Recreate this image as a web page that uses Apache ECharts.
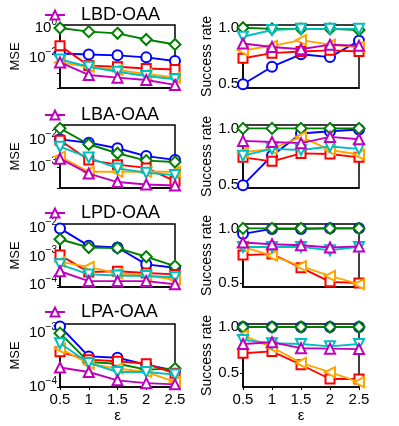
<!DOCTYPE html>
<html>
<head>
<meta charset="utf-8">
<script src="https://cdn.jsdelivr.net/npm/echarts@6/dist/echarts.min.js"></script>
<style>
  html, body { margin: 0; padding: 0; background: #fff; }
  #chart { width: 399px; height: 426px; }
</style>
</head>
<body>
<div id="chart"></div>
<script>
// eps values on the shared x axis
const eps = [0.5, 1, 1.5, 2, 2.5];
const methods = ['LBD-OAA', 'LBA-OAA', 'LPD-OAA', 'LPA-OAA'];

// series order in every panel: blue, green, red, orange, cyan, magenta
const lbdMse = [
  [0.02, 0.017, 0.015, 0.011, 0.0063],
  [1.0, 0.57, 0.44, 0.17, 0.08],
  [0.066, 0.0031, 0.0026, 0.002, 0.0017],
  [0.005, 0.0026, 0.0016, 0.00085, 0.0005],
  [0.008, 0.0026, 0.0012, 0.00063, 0.00038],
  [0.0051, 0.00074, 0.00049, 0.00034, 0.00016]
];
const lbdRate = [
  [0.5, 0.655, 0.765, 0.74, 0.885],
  [1.0, 0.99, 0.99, 0.99, 0.98],
  [0.73, 0.775, 0.79, 0.8, 0.79],
  [0.8, 0.84, 0.89, 0.85, 0.83],
  [0.92, 0.98, 0.99, 0.99, 0.99],
  [0.86, 0.83, 0.81, 0.85, 0.84]
];
const lbaMse = [
  [0.0105, 0.0079, 0.0049, 0.0025, 0.0018],
  [0.027, 0.0069, 0.0032, 0.0017, 0.0015],
  [0.0098, 0.0018, 0.0012, 0.00091, 0.00029],
  [0.0024, 0.00065, 0.00065, 0.00065, 0.00065],
  [0.0056, 0.0022, 0.00087, 0.0006, 0.00049],
  [0.002, 0.00056, 0.00027, 0.00022, 0.0002]
];
const lbaRate = [
  [0.5, 0.76, 0.955, 0.975, 0.99],
  [1, 1, 1, 1, 1],
  [0.745, 0.71, 0.78, 0.775, 0.745],
  [0.79, 0.82, 0.925, 0.81, 0.77],
  [0.76, 0.82, 0.81, 0.84, 0.82],
  [0.89, 0.88, 0.87, 0.925, 0.905]
];
const lpdMse = [
  [0.0098, 0.0024, 0.0021, 0.00054, 0.00041],
  [0.0041, 0.0021, 0.002, 0.001, 0.00047],
  [0.00114, 0.00029, 0.00031, 0.00027, 0.00024],
  [0.00066, 0.00044, 0.00026, 0.00022, 0.00016],
  [0.00054, 0.00024, 0.00022, 0.00021, 0.00019],
  [0.00031, 0.00014, 0.00014, 0.00014, 0.000108]
];
const lpdRate = [
  [0.95, 0.995, 0.995, 1.0, 1.0],
  [1, 1, 1, 1, 1],
  [0.755, 0.765, 0.64, 0.51, 0.5],
  [0.83, 0.75, 0.655, 0.565, 0.49],
  [0.83, 0.83, 0.83, 0.8, 0.83],
  [0.87, 0.855, 0.845, 0.825, 0.835]
];
const lpaMse = [
  [0.00133, 0.00037, 0.00035, 0.00026, 0.0002],
  [0.001, 0.00029, 0.00027, 0.00021, 0.00022],
  [0.00045, 0.00032, 0.0003, 0.00027, 0.00018],
  [0.00052, 0.00027, 0.00022, 0.00019, 0.000124],
  [0.00065, 0.00028, 0.00019, 0.00019, 0.00017],
  [0.00023, 0.00019, 0.000133, 0.000118, 0.000112]
];
const lpaRate = [
  [1, 1, 1, 1, 1],
  [1, 1, 1, 1, 1],
  [0.715, 0.735, 0.59, 0.435, 0.435],
  [0.91, 0.78, 0.61, 0.51, 0.4],
  [0.86, 0.825, 0.815, 0.79, 0.815],
  [0.815, 0.835, 0.77, 0.765, 0.76]
];

// axis ranges and shown tick labels
const mseMin = [1e-4, 1.62e-4, 8.7e-5, 1e-4];
const mseMax = [1.58, 0.036, 0.014, 1.48e-3];
const mseExp = [[0, -2], [-2, -3], [-2, -3, -4], [-3, -4]];
const rateMin = [0.467, 0.475, 0.463, 0.348];
const rateMax = [1.024, 1.03, 1.04, 1.033];
const rateTicks = [0.5, 1.0];

const mseRows = [lbdMse, lbaMse, lpdMse, lpaMse];
const rateRows = [lbdRate, lbaRate, lpdRate, lpaRate];

const FONT = 'Liberation Sans, Arial, sans-serif';
const colors = ['#0000ff', '#008000', '#ff0000', '#ffa500', '#00bfbf', '#bf00bf'];
const symbols = ['emptyCircle', 'emptyDiamond', 'emptyRect', 'emptyTriangle', 'emptyTriangle', 'emptyTriangle'];
const rotates = [0, 0, 0, 90, 180, 0];
const sizes = [10, 11, 9, 10, 10, 10];
const rowTops = [25, 125, 224, 324];
const legendTops = [1, 101, 199, 298];

const chart = echarts.init(document.getElementById('chart'));

const grids = [];
const xAxes = [];
const yAxes = [];
const series = [];

const blackLine = { show: true, lineStyle: { color: '#000', width: 1.5 } };

rowTops.forEach((top, r) => {
  const last = r === rowTops.length - 1;
  [0, 1].forEach(c => {
    const idx = r * 2 + c;
    grids.push({
      left: c === 0 ? 60 : 243,
      width: c === 0 ? 115 : 116,
      top: top,
      height: 63,
      show: true,
      borderColor: '#000',
      borderWidth: 1.5
    });
    xAxes.push({
      type: 'value',
      gridIndex: idx,
      min: 0.5,
      max: 2.5,
      interval: 0.5,
      splitLine: { show: false },
      axisLine: blackLine,
      axisTick: { show: last, length: 3, lineStyle: { color: '#000' } },
      axisLabel: {
        show: last,
        margin: 5,
        fontSize: 15,
        fontFamily: FONT,
        color: '#000',
        formatter: v => String(v)
      },
      name: last ? 'ε' : '',
      nameLocation: 'middle',
      nameGap: 20,
      nameTextStyle: { fontSize: 15, fontFamily: FONT, color: '#000' }
    });
    if (c === 0) {
      yAxes.push({
        type: 'log',
        logBase: 10,
        gridIndex: idx,
        min: mseMin[r],
        max: mseMax[r],
        splitLine: { show: false },
        axisLine: blackLine,
        axisTick: { length: 3, lineStyle: { color: '#000' } },
        axisLabel: {
          margin: 3,
          fontFamily: FONT,
          color: '#000',
          formatter: v => {
            const e = Math.log10(v);
            const k = Math.round(e);
            if (Math.abs(e - k) > 1e-6 || mseExp[r].indexOf(k) < 0) return '';
            return '{b|10}{s|' + (k < 0 ? '\u2212' + (-k) : k) + '}';
          },
          rich: {
            b: { fontSize: 15, lineHeight: 22, fontFamily: FONT, color: '#000' },
            s: { fontSize: 10, lineHeight: 10, verticalAlign: 'top', fontFamily: FONT, color: '#000' }
          }
        },
        name: 'MSE',
        nameLocation: 'middle',
        nameRotate: 90,
        nameGap: 38,
        nameTextStyle: { fontSize: 13, fontFamily: FONT, color: '#000' }
      });
    } else {
      yAxes.push({
        type: 'value',
        gridIndex: idx,
        min: rateMin[r],
        max: rateMax[r],
        splitLine: { show: false },
        axisLine: blackLine,
        axisTick: { length: 3, customValues: rateTicks, lineStyle: { color: '#000' } },
        axisLabel: {
          customValues: rateTicks,
          margin: 4,
          fontSize: 15,
          fontFamily: FONT,
          color: '#000',
          formatter: v => v.toFixed(1)
        },
        name: 'Success rate',
        nameLocation: 'middle',
        nameRotate: 90,
        nameGap: 28,
        nameTextStyle: { fontSize: 14, fontFamily: FONT, color: '#000' }
      });
    }
    const rows = c === 0 ? mseRows[r] : rateRows[r];
    rows.forEach((vals, k) => {
      series.push({
        type: 'line',
        name: k === 5 ? methods[r] : 's' + r + k,
        xAxisIndex: idx,
        yAxisIndex: idx,
        data: eps.map((x, i) => [x, vals[i]]),
        symbol: symbols[k],
        symbolSize: sizes[k],
        symbolRotate: rotates[k],
        showAllSymbol: true,
        color: colors[k],
        lineStyle: { width: 1.9, color: colors[k] },
        itemStyle: { color: colors[k], borderWidth: 1.6 },
        z: 2 + k
      });
    });
  });
});

const legends = methods.map((m, r) => ({
  data: [m],
  left: 39,
  top: legendTops[r],
  itemWidth: 20,
  itemHeight: 11,
  selectedMode: false,
  textStyle: { fontSize: 18, fontFamily: FONT, color: '#000', padding: [0, 0, 0, 11] }
}));

chart.setOption({
  animation: false,
  backgroundColor: '#fff',
  grid: grids,
  xAxis: xAxes,
  yAxis: yAxes,
  legend: legends,
  series: series
});
</script>
</body>
</html>
